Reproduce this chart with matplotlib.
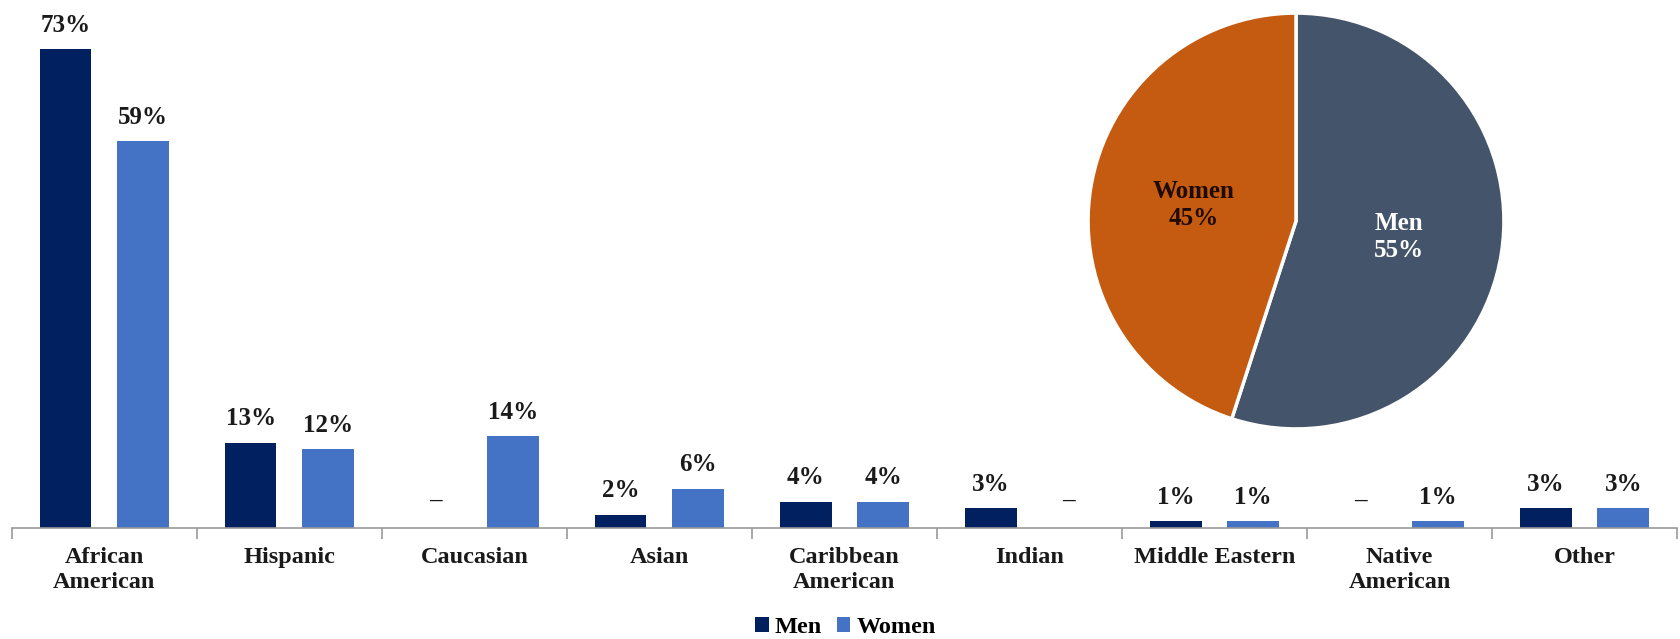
import numpy as np
import matplotlib.pyplot as plt

# data
groups = ['African\nAmerican', 'Hispanic', 'Caucasian', 'Asian', 'Caribbean\nAmerican',
          'Indian', 'Middle Eastern', 'Native\nAmerican', 'Other']
men = [73, 13, 0, 2, 4, 3, 1, 0, 3]
women = [59, 12, 14, 6, 4, 0, 1, 1, 3]

pie_labels = ['Men', 'Women']
pie_share = [55, 45]

plt.rcParams['font.family'] = ['Liberation Serif', 'DejaVu Serif']
plt.rcParams['font.weight'] = 'bold'

men_col = '#002060'
women_col = '#4472C4'

fig = plt.figure(figsize=(16.81, 6.39), dpi=100)
ax = fig.add_axes([0.0071, 0.1737, 0.9905, 0.8263])

x = np.arange(len(groups))
w = 0.28
off = 0.21
b1 = ax.bar(x - off, men, w, color=men_col, label='Men')
b2 = ax.bar(x + off, women, w, color=women_col, label='Women')

for bars, vals in ((b1, men), (b2, women)):
    for rect, v in zip(bars, vals):
        txt = f'{v}%' if v > 0 else '–'
        ax.annotate(txt, (rect.get_x() + rect.get_width() / 2, v),
                    xytext=(0, 9 if v > 0 else 12), textcoords='offset points',
                    ha='center', va='bottom', fontsize=18, fontweight='bold',
                    color='#1a1a1a')

ax.set_xlim(-0.5, len(groups) - 0.5)
ax.set_ylim(0, 80.5)
ax.set_xticks(x)
ax.set_xticklabels(groups, fontsize=17.5, fontweight='bold', color='#1a1a1a',
                   linespacing=1.25)
ax.set_xticks(np.arange(-0.5, len(groups)), minor=True)
ax.tick_params(axis='x', which='major', length=0, pad=14)
ax.tick_params(axis='x', which='minor', length=8, width=1.2, color='#999999')
ax.set_yticks([])
for s in ('top', 'right', 'left'):
    ax.spines[s].set_visible(False)
ax.spines['bottom'].set_color('#999999')
ax.spines['bottom'].set_linewidth(1.2)

fig.legend(handles=[b1, b2], loc='center', bbox_to_anchor=(0.503, 0.018),
           ncol=2, frameon=False, fontsize=17.5, handlelength=0.55, handleheight=0.55,
           handletextpad=0.25, columnspacing=0.6)

# pie inset
pax = fig.add_axes([1086 / 1681, 208 / 639, 420 / 1681, 420 / 639])
wedges, _ = pax.pie(pie_share, colors=['#44546A', '#C55A11'], startangle=90,
                    counterclock=False,
                    wedgeprops=dict(edgecolor='white', linewidth=2.5))
pax.set_xlim(-1.01, 1.01)
pax.set_ylim(-1.01, 1.01)
pax.set_aspect('equal')
txt_cols = ['white', '#1f0a00']
for wdg, lab, val, c in zip(wedges, pie_labels, pie_share, txt_cols):
    ang = np.deg2rad((wdg.theta1 + wdg.theta2) / 2)
    pax.text(0.5 * np.cos(ang), 0.5 * np.sin(ang), f'{lab}\n{val}%',
             ha='center', va='center', fontsize=18, fontweight='bold', color=c,
             linespacing=1.2)

fig.savefig('out.png', dpi=100)
